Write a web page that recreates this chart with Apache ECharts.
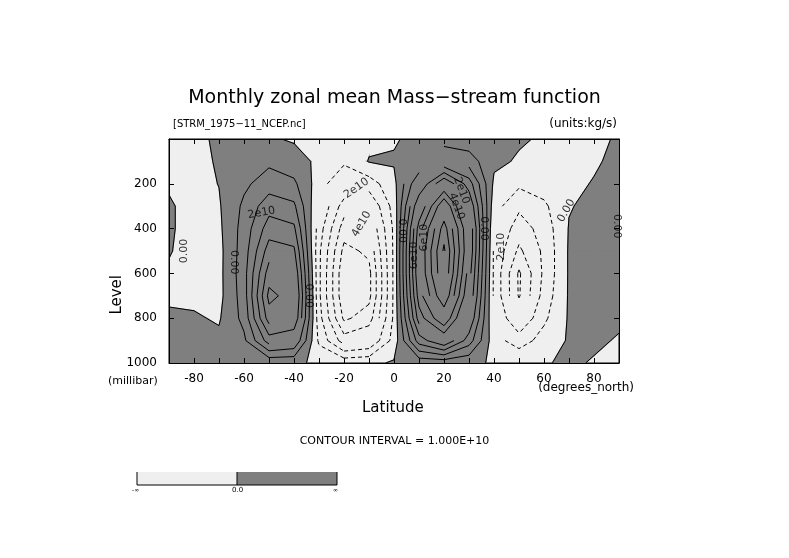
<!DOCTYPE html>
<html><head><meta charset="utf-8">
<script src="https://cdn.jsdelivr.net/npm/echarts@6/dist/echarts.min.js"></script>
<style>html,body{margin:0;background:#fff}#chart{width:789px;height:558px}</style>
</head><body><div id="chart"></div>
<script>
// latitude columns and pressure rows of the stream function grid (units 1e10 kg/s)
var lats = [-90,-80,-70,-60,-50,-40,-30,-20,-10,0,10,20,30,40,50,60,70,80,90];
var levels = [0,100,200,300,400,500,600,700,800,900,1000];
// one array per latitude, values from top (0 mb) to 1000 mb
var psi = [
  [-0.2,-0.2,-0.1,0.1,0.1,0.05,-0.1,-0.1,0.1,0.2,0.1],
  [-0.3,-0.3,-0.3,-0.3,-0.3,-0.3,-0.3,-0.2,0.1,0.2,0.1],
  [0.2,0.1,0.02,-0.1,-0.2,-0.3,-0.3,-0.3,-0.1,0.2,0.1],
  [0.3,0.5,0.8,1.2,1.4,1.5,1.6,1.5,1.3,0.8,0.1],
  [0.1,0.8,1.5,2.6,3.5,4.5,5.5,6.3,5.5,3.5,0.2],
  [-0.1,0.4,1.2,2.2,3.2,4.2,5.0,5.5,5.0,3.0,0.2],
  [-0.2,-0.2,-0.5,-1.0,-1.5,-1.8,-1.8,-1.8,-1.6,-1.2,-0.2],
  [-0.3,-0.8,-2.0,-3.5,-4.5,-5.3,-5.8,-5.8,-5.2,-3.5,-0.3],
  [-0.2,0.05,-1.5,-3.0,-4.0,-4.8,-5.3,-5.3,-4.5,-3.0,-0.2],
  [-0.1,0.1,-0.3,-0.6,-0.8,-0.8,-0.8,-0.8,-0.8,-0.6,0.1],
  [0.3,1.0,3.0,5.0,6.5,7.0,7.0,6.5,5.5,3.5,0.3],
  [0.5,2.0,6.0,9.0,10.5,11.2,11.0,10.0,8.0,5.0,0.3],
  [0.4,1.5,3.5,5.0,6.0,6.0,5.5,5.0,4.0,2.5,0.2],
  [0.3,0.2,-0.2,-0.6,-1.0,-1.2,-1.2,-1.2,-1.0,-0.6,-0.1],
  [0.1,-0.1,-0.8,-1.8,-2.5,-3.2,-4.15,-4.1,-3.0,-1.5,-0.1],
  [-0.1,-0.2,-0.5,-1.2,-1.6,-1.8,-1.8,-1.6,-1.2,-0.6,-0.05],
  [-0.3,-0.3,-0.2,-0.05,0.05,0.1,0.1,0.1,0.1,0.1,0.1],
  [-0.2,-0.1,0.05,0.2,0.3,0.3,0.3,0.2,0.2,0.1,-0.05],
  [0.1,0.2,0.3,0.3,0.3,0.3,0.3,0.2,0.1,-0.05,-0.1]
];
var contourLevels = [-6,-5,-4,-3,-2,-1,0,1,2,3,4,5,6,7,8,9,10,11];
// contour labels: [lat, level, text, rotation]
var labels = [
  [-53,330,'2e10',10],[-15,220,'2e10',35],[-13,380,'4e10',60],
  [-84,500,'0.00',90],[-64,550,'0.00',-90],[-34,700,'0.00',-90],
  [3,410,'0.00',-90],[8,520,'6e10',90],[12,440,'6e10',90],
  [25,300,'4e10',-70],[27,230,'2e10',-70],[36,400,'0.00',-90],
  [43,480,'2e10',90],[69,320,'0.00',60],[89,390,'0.00',-90]
];

var cells = [];
for (var i = 0; i < lats.length - 1; i++)
  for (var j = 0; j < levels.length - 1; j++) cells.push([i, j]);

function corners(i, j) {
  return [
    [lats[i], levels[j], psi[i][j]],
    [lats[i+1], levels[j], psi[i+1][j]],
    [lats[i+1], levels[j+1], psi[i+1][j+1]],
    [lats[i], levels[j+1], psi[i][j+1]]
  ];
}
function cross(a, b, c) {
  var t = (c - a[2]) / (b[2] - a[2]);
  return [a[0] + t * (b[0] - a[0]), a[1] + t * (b[1] - a[1])];
}

function renderFill(params, api) {
  var c = corners(api.value(0), api.value(1)), pts = [];
  for (var k = 0; k < 4; k++) {
    var a = c[k], b = c[(k + 1) % 4];
    if (a[2] > 0) pts.push(api.coord([a[0], a[1]]));
    if ((a[2] > 0) !== (b[2] > 0)) pts.push(api.coord(cross(a, b, 0)));
  }
  if (pts.length < 3) return;
  return {type: 'polygon', shape: {points: pts}, style: {fill: '#7f7f7f', stroke: '#7f7f7f', lineWidth: 1.2}};
}

function renderLines(params, api) {
  var c = corners(api.value(0), api.value(1)), children = [];
  contourLevels.forEach(function (lv) {
    var pts = [];
    for (var k = 0; k < 4; k++) {
      var a = c[k], b = c[(k + 1) % 4];
      if ((a[2] - lv) * (b[2] - lv) < 0) pts.push(api.coord(cross(a, b, lv)));
    }
    for (var p = 0; p + 1 < pts.length; p += 2) {
      children.push({type: 'line', shape: {x1: pts[p][0], y1: pts[p][1], x2: pts[p+1][0], y2: pts[p+1][1]},
        style: {stroke: '#000', lineWidth: 1, lineDash: lv < 0 ? [4, 3] : null}});
    }
  });
  return {type: 'group', children: children};
}

var font = 'DejaVu Sans';
var tick = {inside: true, length: 5, lineStyle: {color: '#000'}};
var line = {onZero: false, lineStyle: {color: '#000'}};
var chart = echarts.init(document.getElementById('chart'));
chart.setOption({
  animation: false,
  textStyle: {fontFamily: font},
  grid: {left: 169, right: 170, top: 139, bottom: 195, show: true, backgroundColor: '#efefef', borderColor: '#000', borderWidth: 1},
  xAxis: [
    {type: 'value', z: 20, min: -90, max: 90, interval: 10, splitLine: {show: false}, axisLine: line, axisTick: tick,
     axisLabel: {color: '#000', fontSize: 12, margin: 10, formatter: function (v) { return (v % 20 === 0 && Math.abs(v) < 90) ? v : ''; }}},
    {type: 'value', z: 20, position: 'top', min: -90, max: 90, interval: 10, splitLine: {show: false},
     axisLine: line, axisTick: tick, axisLabel: {show: false}}
  ],
  yAxis: [
    {type: 'value', z: 20, inverse: true, min: 0, max: 1000, interval: 200, splitLine: {show: false}, axisLine: line, axisTick: tick,
     axisLabel: {color: '#000', fontSize: 12, margin: 12, formatter: function (v) { return v > 0 ? v : ''; }}},
    {type: 'value', z: 20, position: 'right', inverse: true, min: 0, max: 1000, interval: 200, splitLine: {show: false},
     axisLine: line, axisTick: tick, axisLabel: {show: false}}
  ],
  series: [
    {type: 'custom', data: cells, renderItem: renderFill, clip: true, z: 1, silent: true},
    {type: 'custom', data: cells, renderItem: renderLines, clip: true, z: 2, silent: true},
    {type: 'scatter', symbolSize: 0, z: 3, silent: true,
     data: labels.map(function (l) { return {value: [l[0], l[1]], label: {rotate: l[3]}}; }),
     label: {show: true, position: 'inside', color: '#000', fontSize: 11, fontFamily: font,
       formatter: function (p) { return labels[p.dataIndex][2]; }}}
  ],
  graphic: [
    {type: 'text', left: 'center', top: 89, style: {text: 'Monthly zonal mean Mass\u2212stream function', font: '19px "' + font + '"', fill: '#000'}},
    {type: 'text', left: 173, top: 119, style: {text: '[STRM_1975\u221211_NCEP.nc]', font: '10px "' + font + '"', fill: '#000'}},
    {type: 'text', right: 172, top: 118, style: {text: '(units:kg/s)', font: '12px "' + font + '"', fill: '#000'}},
    {type: 'text', left: 110, top: 275, rotation: Math.PI / 2, style: {text: 'Level', font: '15px "' + font + '"', fill: '#000'}},
    {type: 'text', left: 108, top: 376, style: {text: '(millibar)', font: '11px "' + font + '"', fill: '#000'}},
    {type: 'text', right: 155, top: 382, style: {text: '(degrees_north)', font: '12px "' + font + '"', fill: '#000'}},
    {type: 'text', left: 362, top: 401, style: {text: 'Latitude', font: '15px "' + font + '"', fill: '#000'}},
    {type: 'text', left: 'center', top: 436, style: {text: 'CONTOUR INTERVAL = 1.000E+10', font: '11px "' + font + '"', fill: '#000'}},
    {type: 'rect', shape: {x: 137, y: 472, width: 100, height: 13}, style: {fill: '#efefef', stroke: null}},
    {type: 'rect', shape: {x: 237, y: 472, width: 100, height: 13}, style: {fill: '#7f7f7f', stroke: null}},
    {type: 'polyline', shape: {points: [[137, 472], [137, 485], [337, 485], [337, 472]]}, style: {stroke: '#000', fill: null, lineWidth: 1}},
    {type: 'line', shape: {x1: 237, y1: 472, x2: 237, y2: 485}, style: {stroke: '#000'}},
    {type: 'text', left: 132, top: 487, style: {text: '-\u221e', font: '6px "' + font + '"', fill: '#000'}},
    {type: 'text', left: 232, top: 487, style: {text: '0.0', font: '7px "' + font + '"', fill: '#000'}},
    {type: 'text', left: 333, top: 487, style: {text: '\u221e', font: '6px "' + font + '"', fill: '#000'}}
  ]
});
</script></body></html>
